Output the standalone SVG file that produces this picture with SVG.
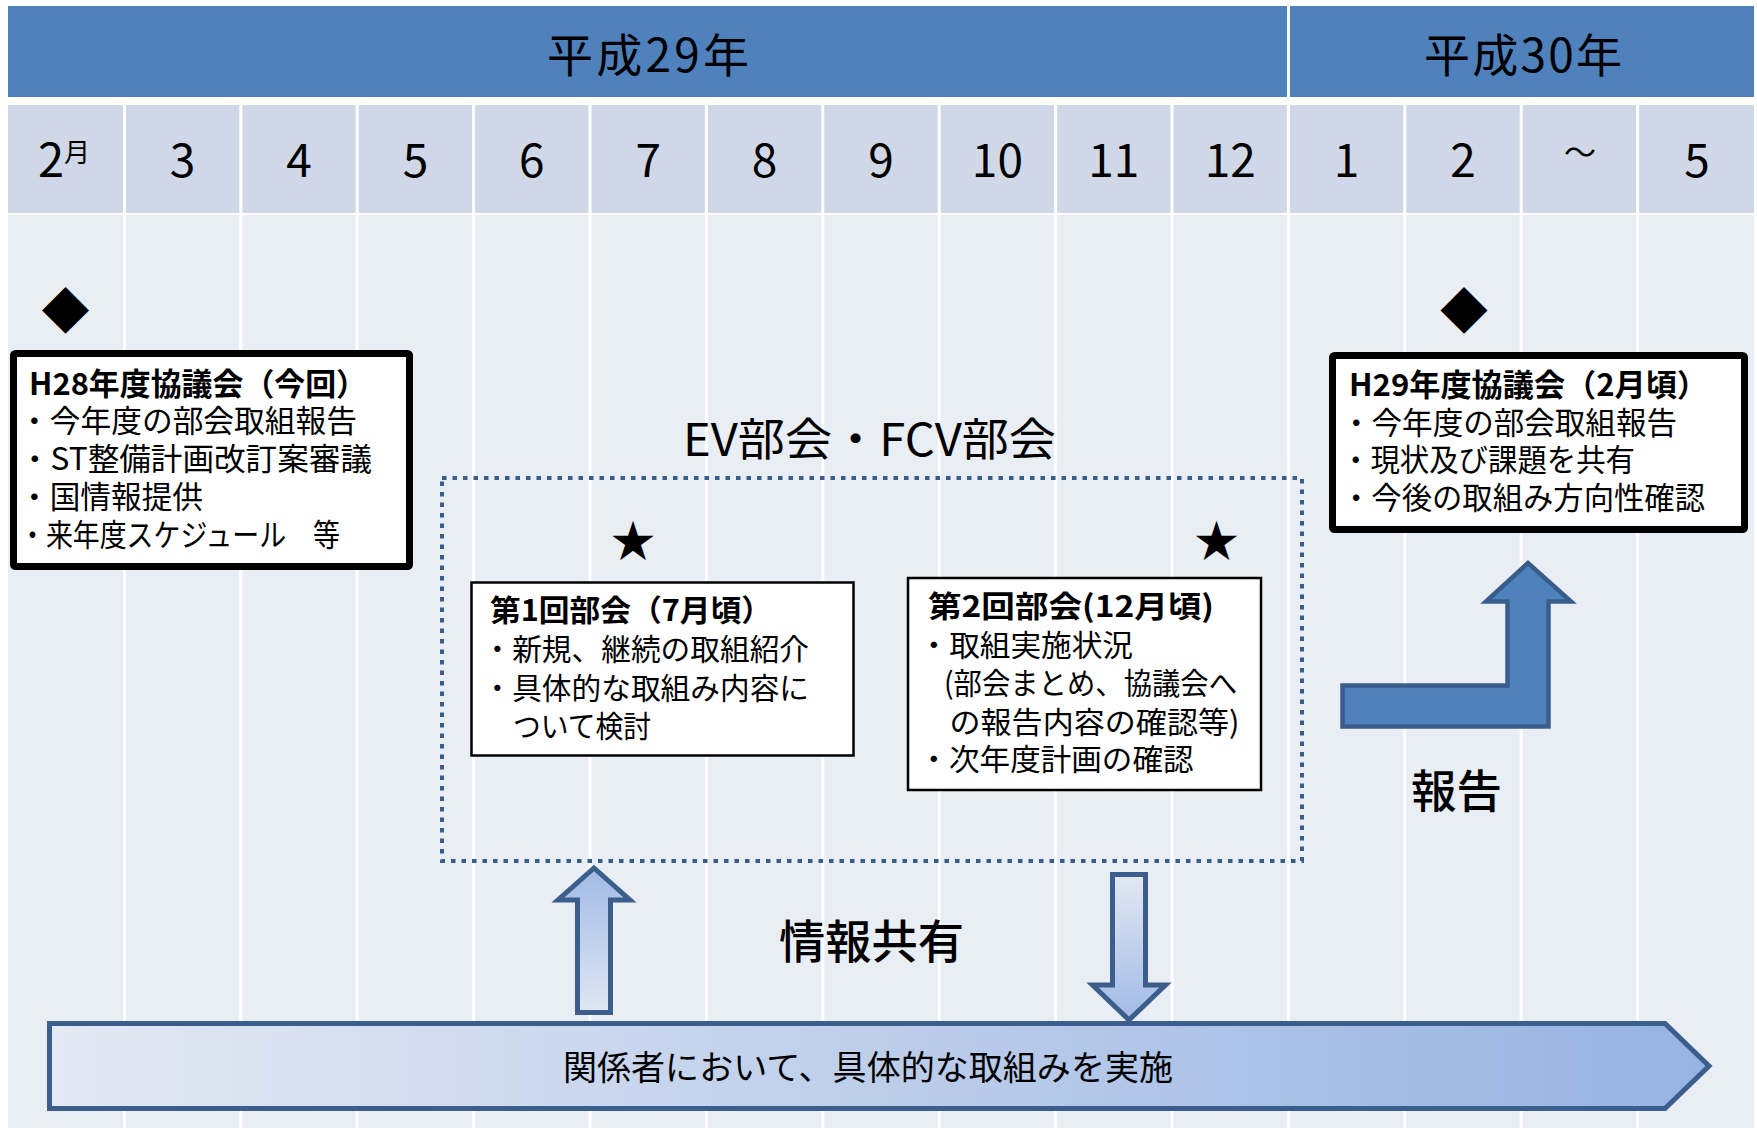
<svg xmlns="http://www.w3.org/2000/svg" width="1757" height="1128" viewBox="0 0 1757 1128">
<defs>
<style>
text{font-family:"Noto Sans CJK JP","Noto Sans",sans-serif;fill:#000}
.hdr{font-size:46px;text-anchor:middle}
.mon{font-size:46px;text-anchor:middle}
.t{font-size:31px}
.s{font-size:30px}
.b{font-weight:bold}
.m{font-weight:500}
.sep{fill:#FFFFFF}
.box{fill:#FFFFFF;stroke:#000000}
.arr{stroke:#3B5E8C;stroke-width:5;stroke-linejoin:miter}
</style>
<linearGradient id="gUp" x1="0" y1="0" x2="0" y2="1">
<stop offset="0" stop-color="#A1BAE5"/>
<stop offset="1" stop-color="#E0E7F3"/>
</linearGradient>
<linearGradient id="gDown" x1="0" y1="0" x2="0" y2="1">
<stop offset="0" stop-color="#E2E8F3"/>
<stop offset="1" stop-color="#A1BAE5"/>
</linearGradient>
<linearGradient id="gBig" x1="0" y1="0" x2="1" y2="0">
<stop offset="0" stop-color="#E4E9F3"/>
<stop offset="1" stop-color="#96B3E2"/>
</linearGradient>
</defs>
<rect width="1757" height="1128" fill="#FFFFFF"/>
<g id="timeline">
<rect x="8" y="6" width="1746" height="91" fill="#4F81BD"/>
<rect x="1287" y="6" width="3" height="91" class="sep"/>
<rect x="8" y="105" width="1746" height="108" fill="#D0D8E8"/>
<rect x="8" y="215" width="1746" height="913" fill="#E9EDF4"/>
<g class="sep">
<rect x="123" y="105" width="3" height="1023"/>
<rect x="239.3" y="105" width="3" height="1023"/>
<rect x="355.7" y="105" width="3" height="1023"/>
<rect x="472.1" y="105" width="3" height="1023"/>
<rect x="588.5" y="105" width="3" height="1023"/>
<rect x="704.9" y="105" width="3" height="1023"/>
<rect x="821.3" y="105" width="3" height="1023"/>
<rect x="937.7" y="105" width="3" height="1023"/>
<rect x="1054.1" y="105" width="3" height="1023"/>
<rect x="1170.5" y="105" width="3" height="1023"/>
<rect x="1286.9" y="105" width="3" height="1023"/>
<rect x="1403.3" y="105" width="3" height="1023"/>
<rect x="1519.7" y="105" width="3" height="1023"/>
<rect x="1636.1" y="105" width="3" height="1023"/>
</g>
<text class="hdr" x="648" y="72" textLength="202">平成29年</text>
<text class="hdr" x="1523" y="72" textLength="198">平成30年</text>
<text x="38" y="177" style="font-size:47px">2<tspan x="64" y="162" style="font-size:26px">月</tspan></text>
<text class="mon" x="182.6" y="177">3</text>
<text class="mon" x="299" y="177">4</text>
<text class="mon" x="415.4" y="177">5</text>
<text class="mon" x="531.8" y="177">6</text>
<text class="mon" x="648.2" y="177">7</text>
<text class="mon" x="764.6" y="177">8</text>
<text class="mon" x="881" y="177">9</text>
<text class="mon" x="997.4" y="177">10</text>
<text class="mon" x="1113.8" y="177">11</text>
<text class="mon" x="1230.2" y="177">12</text>
<text class="mon" x="1346.6" y="177">1</text>
<text class="mon" x="1463" y="177">2</text>
<text class="mon" x="1580" y="164" style="font-size:32px">～</text>
<text class="mon" x="1697" y="177">5</text>
</g>
<g id="marker-h28">
<text x="65.5" y="328" style="font-size:48px;text-anchor:middle">◆</text>
</g>
<g id="marker-h29">
<text x="1464" y="328" style="font-size:48px;text-anchor:middle">◆</text>
</g>
<g id="node-h28">
<rect class="box" x="13.5" y="353.5" width="396" height="213" rx="2" stroke-width="7"/>
<text class="t b" x="29" y="395" textLength="338" lengthAdjust="spacingAndGlyphs">H28年度協議会（今回）</text>
<text class="t" x="19" y="432" textLength="338" lengthAdjust="spacingAndGlyphs">・今年度の部会取組報告</text>
<text class="t" x="19" y="470" textLength="353" lengthAdjust="spacingAndGlyphs">・ST整備計画改訂案審議</text>
<text class="t" x="19" y="508" textLength="184" lengthAdjust="spacingAndGlyphs">・国情報提供</text>
<text class="t" x="19" y="546" textLength="321" lengthAdjust="spacingAndGlyphs">・来年度スケジュール　等</text>
</g>
<g id="node-h29">
<rect class="box" x="1332.5" y="355.5" width="412" height="174" rx="2" stroke-width="7"/>
<text class="t b" x="1349" y="396" textLength="359" lengthAdjust="spacingAndGlyphs">H29年度協議会（2月頃）</text>
<text class="t" x="1341" y="434" textLength="336" lengthAdjust="spacingAndGlyphs">・今年度の部会取組報告</text>
<text class="t" x="1341" y="471" textLength="294" lengthAdjust="spacingAndGlyphs">・現状及び課題を共有</text>
<text class="t" x="1341" y="509" textLength="364" lengthAdjust="spacingAndGlyphs">・今後の取組み方向性確認</text>
</g>
<g id="group-bukai">
<rect x="442" y="478" width="860" height="383" fill="none" stroke="#385D8A" stroke-width="4" stroke-dasharray="4.5 6"/>
<text x="683" y="456" style="font-size:45px" textLength="373" lengthAdjust="spacingAndGlyphs">EV部会・FCV部会</text>
</g>
<g id="star-1">
<text x="633" y="557" style="font-size:44px;text-anchor:middle">★</text>
</g>
<g id="star-2">
<text x="1216.5" y="557" style="font-size:44px;text-anchor:middle">★</text>
</g>
<g id="node-bukai1">
<rect class="box" x="471.5" y="582.5" width="382" height="173" stroke-width="2.5"/>
<text class="s b" x="490" y="621" textLength="282" lengthAdjust="spacingAndGlyphs">第1回部会（7月頃）</text>
<text class="s" x="482.5" y="660" textLength="326.5" lengthAdjust="spacingAndGlyphs">・新規、継続の取組紹介</text>
<text class="s" x="482.5" y="699" textLength="326.5" lengthAdjust="spacingAndGlyphs">・具体的な取組み内容に</text>
<text class="s" x="513" y="737" textLength="138" lengthAdjust="spacingAndGlyphs">ついて検討</text>
</g>
<g id="node-bukai2">
<rect class="box" x="908" y="578" width="353" height="212" stroke-width="2.5"/>
<text class="s b" x="928" y="617" textLength="286" lengthAdjust="spacingAndGlyphs">第2回部会(12月頃)</text>
<text class="s" x="918.5" y="656" textLength="214.5" lengthAdjust="spacingAndGlyphs">・取組実施状況</text>
<text class="s" x="944" y="694" textLength="293" lengthAdjust="spacingAndGlyphs">(部会まとめ、協議会へ</text>
<text class="s" x="949.5" y="733" textLength="290" lengthAdjust="spacingAndGlyphs">の報告内容の確認等)</text>
<text class="s" x="918.5" y="770" textLength="275" lengthAdjust="spacingAndGlyphs">・次年度計画の確認</text>
</g>
<g id="node-action">
<path class="arr" d="M49.5,1023.5 H1665 L1709,1066 L1665,1108.5 H49.5 Z" fill="url(#gBig)"/>
<text x="563" y="1080" style="font-size:34px" textLength="610" lengthAdjust="spacingAndGlyphs">関係者において、具体的な取組みを実施</text>
</g>
<g id="connectors">
<path class="arr" d="M594,868 L630,900 H610.5 V1012.5 H577.5 V900 H558 Z" fill="url(#gUp)"/>
<path class="arr" d="M1112.5,874.5 H1145.5 V985 H1165.5 L1129,1020 L1092.5,985 H1112.5 Z" fill="url(#gDown)"/>
<path d="M1342.5,685.5 H1507.5 V601.5 H1486 L1528,563 L1571,601.5 H1548.5 V726.5 H1342.5 Z" fill="#4F81BD" stroke="#385D8A" stroke-width="4.5"/>
<text x="779" y="958" class="m" style="font-size:46px" textLength="185" lengthAdjust="spacingAndGlyphs">情報共有</text>
<text x="1411" y="808" class="m" style="font-size:45px" textLength="91" lengthAdjust="spacingAndGlyphs">報告</text>
</g>
</svg>
